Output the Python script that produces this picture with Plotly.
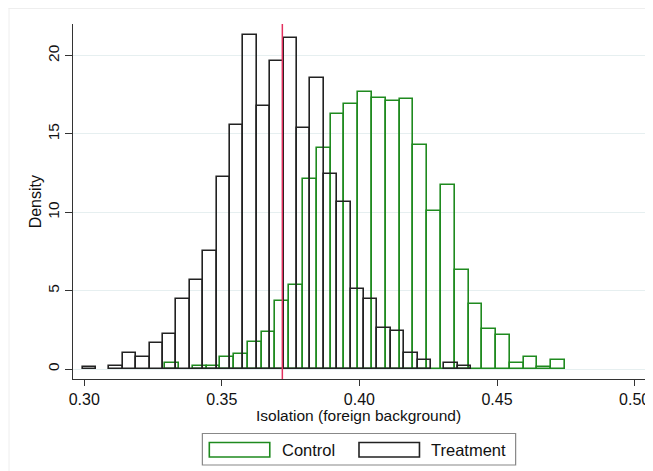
import plotly.graph_objects as go

# ---- data ----
treat_start = 0.29942
treat_width = 0.00487
treat_density = [0.15, None, 0.17, 1.0, 0.75, 1.64, 2.21, 4.45, 5.68, 7.56,
                 12.28, 15.56, 21.33, 16.79, 19.67, 21.1, 15.37, 18.6, 12.47, 10.63,
                 5.11, 4.47, 2.64, 2.43, 1.0, 0.57, None, 0.38, 0.17]

ctrl_start = 0.32943
ctrl_width = 0.00501
ctrl_density = [0.36, None, 0.17, 0.17, 0.77, 0.95, 1.75, 2.36, 4.34, 5.36,
                12.1, 14.1, 16.3, 16.9, 17.69, 17.28, 17.09, 17.26, 14.28, 10.11,
                11.72, 6.32, 4.15, 2.55, 2.15, 0.36, 0.75, 0.15, 0.57]

observed_value = 0.372

x_ticks = [0.30, 0.35, 0.40, 0.45, 0.50]
x_tick_labels = ["0.30", "0.35", "0.40", "0.45", "0.50"]
y_ticks = [0, 5, 10, 15, 20]

series_names = ["Control", "Treatment"]
GREEN = "#1f8a1f"
BLACK = "#222222"
RED = "#e3305e"
FONT = "Liberation Sans, Arial, sans-serif"

OFF = 8  # page body margin
W, H = 653 - OFF, 471 - OFF
ML, MR, MT, MB = 73 - OFF, 3, 24 - OFF, 92
PW, PH = W - ML - MR, H - MT - MB


def px(xp):  # page pixel -> paper fraction
    return (xp - OFF - ML) / PW


def py(yp):
    return (H - MB - (yp - OFF)) / PH


def centers(start, width, n):
    return [start + width * (i + 0.5) for i in range(n)]


fig = go.Figure()
fig.add_trace(go.Bar(
    x=centers(ctrl_start, ctrl_width, len(ctrl_density)), y=ctrl_density,
    width=ctrl_width, name=series_names[0],
    marker=dict(color="rgba(0,0,0,0)", line=dict(color=GREEN, width=1.6)),
    showlegend=False,
))
fig.add_trace(go.Bar(
    x=centers(treat_start, treat_width, len(treat_density)), y=treat_density,
    width=treat_width, name=series_names[1],
    marker=dict(color="rgba(0,0,0,0)", line=dict(color=BLACK, width=1.6)),
    showlegend=False,
))

shapes = [
    dict(type="line", xref="x", yref="paper", x0=observed_value, x1=observed_value,
         y0=0, y1=1, line=dict(color=RED, width=1.5), layer="above"),
    # faint graph-region outline
    dict(type="line", xref="paper", yref="paper", x0=px(8), x1=px(653), y0=py(8.5), y1=py(8.5),
         line=dict(color="#eeeeee", width=1)),
    dict(type="line", xref="paper", yref="paper", x0=px(8.5), x1=px(8.5), y0=py(8), y1=py(471),
         line=dict(color="#eeeeee", width=1)),
    # legend box
    dict(type="rect", xref="paper", yref="paper", x0=px(203.5), x1=px(519.5),
         y0=py(465), y1=py(433.5), line=dict(color="#888888", width=1.2), fillcolor="white"),
    dict(type="rect", xref="paper", yref="paper", x0=px(210.5), x1=px(271.5),
         y0=py(457), y1=py(442.5), line=dict(color=GREEN, width=1.6)),
    dict(type="rect", xref="paper", yref="paper", x0=px(361.5), x1=px(422.5),
         y0=py(457), y1=py(442.5), line=dict(color=BLACK, width=1.6)),
]

annotations = [
    dict(text=series_names[0], xref="paper", yref="paper", x=px(282), y=py(449.5),
         xanchor="left", yanchor="middle", showarrow=False,
         font=dict(family=FONT, size=16.5, color="#111")),
    dict(text=series_names[1], xref="paper", yref="paper", x=px(432.5), y=py(449.5),
         xanchor="left", yanchor="middle", showarrow=False,
         font=dict(family=FONT, size=16.5, color="#111")),
    dict(text="Isolation (foreign background)", xref="paper", yref="paper",
         x=px(361), y=py(415), xanchor="center", yanchor="middle", showarrow=False,
         font=dict(family=FONT, size=15.5, color="#111")),
    dict(text="Density", xref="paper", yref="paper", x=px(35), y=py(202),
         xanchor="center", yanchor="middle", showarrow=False, textangle=-90,
         font=dict(family=FONT, size=16, color="#111")),
]

fig.update_layout(
    width=W, height=H,
    margin=dict(l=ML, r=MR, t=MT, b=MB),
    paper_bgcolor="white", plot_bgcolor="white",
    barmode="overlay", bargap=0,
    shapes=shapes, annotations=annotations,
    font=dict(family=FONT, size=16, color="#111"),
    showlegend=False,
)
fig.update_xaxes(
    range=[0.29593, 0.50378], tickvals=x_ticks, ticktext=x_tick_labels,
    showline=True, linecolor="#333", linewidth=1.3,
    ticks="outside", ticklen=6, tickcolor="#333", tickwidth=1.3,
    showgrid=False, zeroline=False, ticklabeloverflow="allow",
    tickfont=dict(family=FONT, size=16, color="#111"),
)
fig.update_yaxes(
    range=[-0.638, 22.02], tickvals=y_ticks,
    showline=True, linecolor="#333", linewidth=1.3,
    ticks="outside", ticklen=7, tickcolor="#333", tickwidth=1.3,
    showgrid=True, gridcolor="#e6eff0", gridwidth=1, zeroline=False,
    tickangle=-90,
    tickfont=dict(family=FONT, size=15.5, color="#111"),
)

fig.write_html("out.html")
